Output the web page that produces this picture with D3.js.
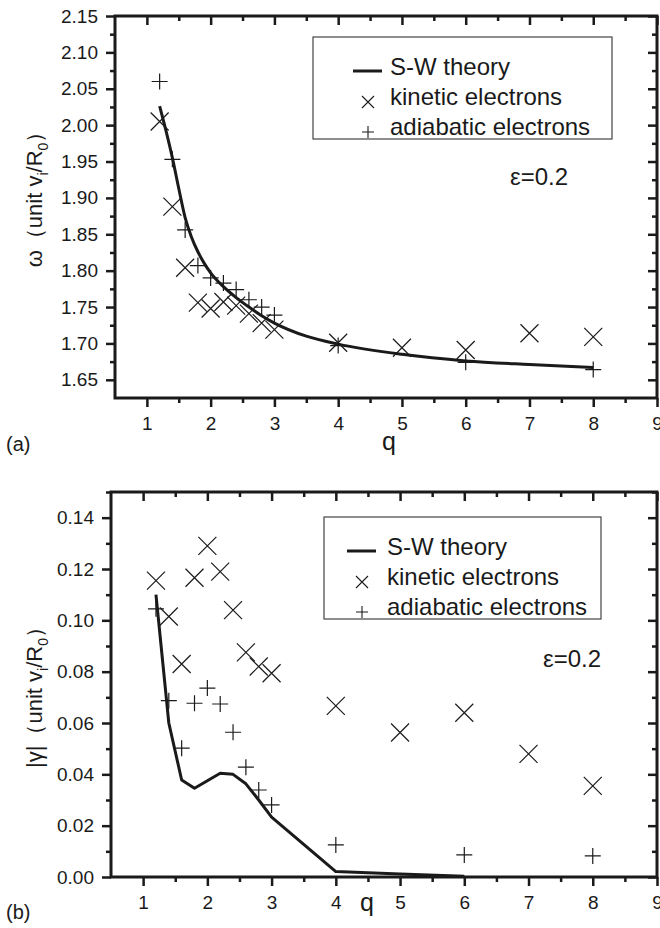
<!DOCTYPE html>
<html>
<head>
<meta charset="utf-8">
<script src="https://cdn.jsdelivr.net/npm/d3@7"></script>
<style>
  body { margin: 0; background: #fff; }
  svg { font-family: Arial, "Liberation Sans", sans-serif; }
</style>
</head>
<body>
<script>
// q values of the simulation runs
const qKinetic = [1.2, 1.4, 1.6, 1.8, 2.0, 2.2, 2.4, 2.6, 2.8, 3.0, 4, 5, 6, 7, 8];
const qAdiabatic = [1.2, 1.4, 1.6, 1.8, 2.0, 2.2, 2.4, 2.6, 2.8, 3.0, 4, 6, 8];

// (a) real frequency
const qTheoryA = [1.2, 1.3, 1.4, 1.5, 1.6, 1.7, 1.8, 1.9, 2.0, 2.2, 2.4, 2.6, 2.8, 3.0, 3.5, 4, 5, 6, 7, 8];
const omegaTheory = [2.026, 1.992, 1.955, 1.913, 1.873, 1.846, 1.826, 1.810, 1.797, 1.778, 1.763, 1.750, 1.738, 1.728, 1.710, 1.699, 1.685, 1.676, 1.671, 1.667];
const omegaKinetic = [2.005, 1.888, 1.804, 1.756, 1.748, 1.757, 1.752, 1.741, 1.728, 1.719, 1.701, 1.694, 1.691, 1.714, 1.709];
const omegaAdiabatic = [2.060, 1.953, 1.856, 1.807, 1.790, 1.783, 1.774, 1.760, 1.750, 1.739, 1.697, 1.674, 1.664];

// (b) damping rate
const qTheoryB = [1.2, 1.4, 1.6, 1.8, 2.0, 2.2, 2.4, 2.6, 2.8, 3.0, 4, 5, 6];
const gammaTheory = [0.110, 0.060, 0.0378, 0.0346, 0.0375, 0.0404, 0.0400, 0.0363, 0.0300, 0.0233, 0.0021, 0.0012, 0.0003];
const gammaKinetic = [0.1155, 0.1015, 0.083, 0.1166, 0.129, 0.119, 0.104, 0.0875, 0.082, 0.0794, 0.0667, 0.0563, 0.064, 0.048, 0.0355];
const gammaAdiabatic = [0.1045, 0.0687, 0.0502, 0.0677, 0.0736, 0.0674, 0.0564, 0.0428, 0.0339, 0.0281, 0.0125, 0.0086, 0.0082];

// ticks
const qTicks = [1, 2, 3, 4, 5, 6, 7, 8, 9];
const omegaTicks = [1.65, 1.70, 1.75, 1.80, 1.85, 1.90, 1.95, 2.00, 2.05, 2.10, 2.15];
const gammaTicks = [0.00, 0.02, 0.04, 0.06, 0.08, 0.10, 0.12, 0.14];
const legendLabels = ["S-W theory", "kinetic electrons", "adiabatic electrons"];

const ink = "#1a1a1a";
const svg = d3.select("body").append("svg").attr("width", 660).attr("height", 928);

const crossPath = s => `M${-s},${-s}L${s},${s}M${-s},${s}L${s},${-s}`;
const plusPath = s => `M${-s},0L${s},0M0,${-s}L0,${s}`;

function axis(g, gen, tx, ty, labels) {
    let a = g.append("g").attr("transform", `translate(${tx},${ty})`).attr("color", ink).call(gen);
    a.select(".domain").remove();
    a.selectAll("line").attr("stroke-width", 2.5);
    if (!labels) a.selectAll("text").remove();
    else a.selectAll("text").attr("font-size", 19).attr("fill", ink).attr("font-family", null);
    return a;
}

function drawPanel(p) {
    let g = svg.append("g");
    let x = d3.scaleLinear().domain([0.5, 9]).range([p.left, 657]);
    let y = d3.scaleLinear().domain(p.yDomain).range([p.bottom, p.top]);
    let minorQ = qTicks.slice(0, -1).map(d => d + 0.5);
    let minorY = p.yTicks.slice(0, -1).map((d, i) => (d + p.yTicks[i + 1]) / 2);
    if (p.yTicks[p.yTicks.length - 1] < p.yDomain[1]) minorY.push(p.yTicks[p.yTicks.length - 1] + (p.yTicks[1] - p.yTicks[0]) / 2);

    // bottom / left with labels
    let bx = axis(g, d3.axisBottom(x).tickValues(qTicks).tickSize(9).tickFormat(d3.format("d")), 0, p.bottom, true);
    bx.selectAll("text").attr("y", 32).attr("dy", null);
    axis(g, d3.axisBottom(x).tickValues(minorQ).tickSize(5), 0, p.bottom, false);
    axis(g, d3.axisLeft(y).tickValues(p.yTicks).tickSize(9).tickPadding(8).tickFormat(d3.format(".2f")), p.left, 0, true);
    axis(g, d3.axisLeft(y).tickValues(minorY).tickSize(5), p.left, 0, false);
    // mirrored top / right, ticks same direction
    axis(g, d3.axisBottom(x).tickValues(qTicks).tickSize(9), 0, p.top, false);
    axis(g, d3.axisBottom(x).tickValues(minorQ).tickSize(5), 0, p.top, false);
    axis(g, d3.axisLeft(y).tickValues(p.yTicks).tickSize(9), 657, 0, false);
    axis(g, d3.axisLeft(y).tickValues(minorY).tickSize(5), 657, 0, false);

    g.append("rect")
        .attr("x", p.left).attr("y", p.top)
        .attr("width", 657 - p.left).attr("height", p.bottom - p.top)
        .attr("fill", "none").attr("stroke", ink).attr("stroke-width", 3);

    // theory curve
    let line = d3.line().x(d => x(d[0])).y(d => y(d[1])).curve(p.curve);
    g.append("path").datum(d3.zip(p.qTheory, p.theory))
        .attr("d", line).attr("fill", "none").attr("stroke", ink)
        .attr("stroke-width", 3).attr("stroke-linejoin", "round");

    g.selectAll(".kin").data(d3.zip(qKinetic, p.kinetic)).enter().append("path")
        .attr("class", "kin")
        .attr("transform", d => `translate(${x(d[0])},${y(d[1])})`)
        .attr("d", crossPath(9)).attr("stroke", ink).attr("stroke-width", 1.2).attr("fill", "none");
    g.selectAll(".adi").data(d3.zip(qAdiabatic, p.adiabatic)).enter().append("path")
        .attr("class", "adi")
        .attr("transform", d => `translate(${x(d[0])},${y(d[1])})`)
        .attr("d", plusPath(8)).attr("stroke", ink).attr("stroke-width", 1.2).attr("fill", "none");

    // legend
    let L = p.legend;
    let lg = g.append("g");
    lg.append("rect").attr("x", L.x).attr("y", L.y).attr("width", L.w).attr("height", L.h)
        .attr("fill", "#fff").attr("stroke", "#444").attr("stroke-width", 1.2);
    lg.append("line").attr("x1", L.mx - 15).attr("x2", L.mx + 14)
        .attr("y1", L.y + 34).attr("y2", L.y + 34).attr("stroke", ink).attr("stroke-width", 3);
    lg.append("path").attr("transform", `translate(${L.mx},${L.y + 65})`).attr("d", crossPath(6))
        .attr("stroke", ink).attr("stroke-width", 1.1);
    lg.append("path").attr("transform", `translate(${L.mx},${L.y + 95})`).attr("d", plusPath(6))
        .attr("stroke", ink).attr("stroke-width", 1.1);
    lg.selectAll("text").data(legendLabels).enter().append("text")
        .attr("x", L.tx).attr("y", (d, i) => L.y + 38 + i * 30)
        .attr("font-size", 24).attr("fill", ink).text(d => d);

    g.append("text").attr("x", p.eps[0]).attr("y", p.eps[1]).attr("font-size", 24).attr("fill", ink).text("ε=0.2");
    g.append("text").attr("x", p.qLabel[0]).attr("y", p.qLabel[1]).attr("font-size", 25).attr("fill", ink).text("q");
    g.append("text").attr("x", 6).attr("y", p.tag[1]).attr("font-size", 20).attr("fill", ink).text(p.tag[0]);

    // rotated y title with subscripts
    let t = g.append("text").attr("transform", `translate(42,${p.titleY}) rotate(-90)`)
        .attr("text-anchor", "middle").attr("font-size", 22).attr("fill", ink);
    t.append("tspan").text(p.sym + "（unit v");
    t.append("tspan").attr("font-size", 14).attr("dy", 6).text("i");
    t.append("tspan").attr("dy", -6).text("/R");
    t.append("tspan").attr("font-size", 14).attr("dy", 6).text("0");
    t.append("tspan").attr("dy", -6).text("）");
}

drawPanel({
    left: 115, top: 16, bottom: 398,
    yDomain: [1.625, 2.15], yTicks: omegaTicks,
    qTheory: qTheoryA, theory: omegaTheory, curve: d3.curveMonotoneX,
    kinetic: omegaKinetic, adiabatic: omegaAdiabatic,
    legend: {x: 313, y: 37, w: 299, h: 102, mx: 368, tx: 390},
    eps: [510, 185], qLabel: [382, 450], tag: ["(a)", 451],
    sym: "ω", titleY: 194
});

drawPanel({
    left: 111, top: 492, bottom: 877,
    yDomain: [0, 0.15], yTicks: gammaTicks,
    qTheory: qTheoryB, theory: gammaTheory, curve: d3.curveLinear,
    kinetic: gammaKinetic, adiabatic: gammaAdiabatic,
    legend: {x: 324, y: 517, w: 277, h: 102, mx: 362, tx: 387},
    eps: [543, 667], qLabel: [360, 911], tag: ["(b)", 919],
    sym: "|γ|", titleY: 692
});
</script>
</body>
</html>
